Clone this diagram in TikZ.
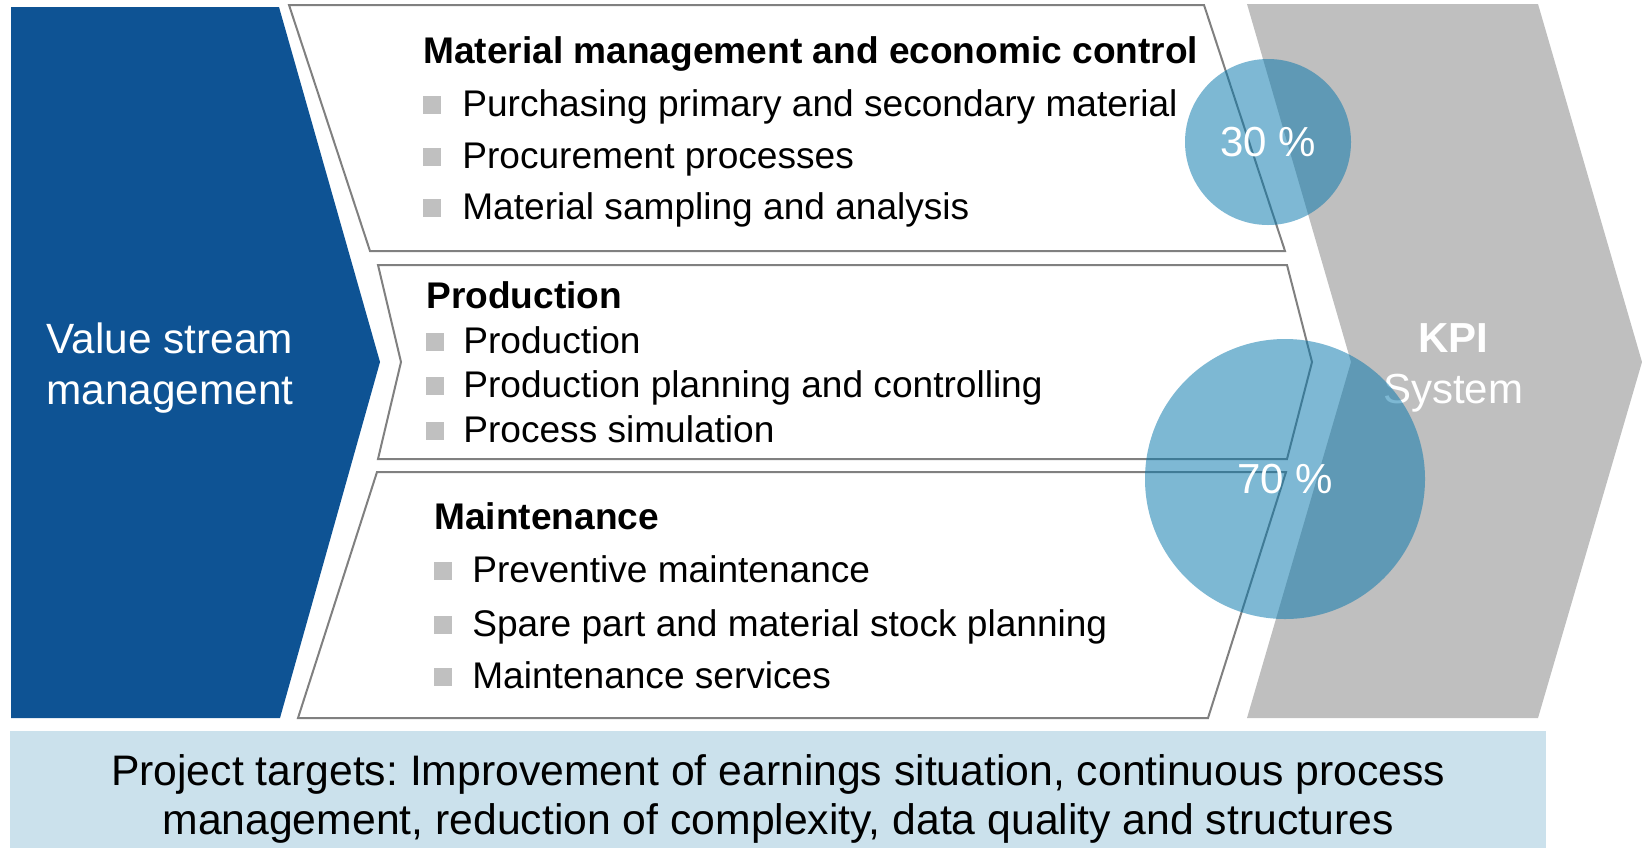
\documentclass[tikz,border=0pt]{standalone}
\usepackage{fontspec}
\setmainfont{Liberation Sans}
\frenchspacing
\definecolor{vsblue}{RGB}{14,83,148}
\definecolor{kpigray}{RGB}{191,191,191}
\definecolor{linegray}{RGB}{128,128,128}
\definecolor{bulletgray}{RGB}{192,192,192}
\definecolor{pctblue}{RGB}{7,119,172}
\definecolor{bannerblue}{RGB}{203,225,236}
\begin{document}
\begin{tikzpicture}[x=0.2mm, y=-0.2mm,
    panel/.style={draw=linegray, line width=0.4mm, fill=white},
    head/.style={anchor=base west, inner sep=0, font=\fontsize{21.1}{25}\selectfont\bfseries},
    item/.style={anchor=base west, inner sep=0, font=\fontsize{21.1}{25}\selectfont},
    bullet/.style={fill=bulletgray, inner sep=0, minimum size=3.5mm},
    share/.style={circle, fill=pctblue, fill opacity=0.52, text opacity=1, text=white, inner sep=0, font=\fontsize{23.9}{29}\selectfont}]

    \useasboundingbox (0,0) rectangle (1642,848);

    % Value stream arrow
    \fill[vsblue] (11,7) -- (279,7) -- (380,362) -- (280,718) -- (11,718) -- cycle;
    \node[text=white, align=center, font=\fontsize{24.1}{28.6}\selectfont] (vsm) at (170,368) {Value stream\\management};

    % KPI arrow
    \fill[kpigray] (1247,4) -- (1538,4) -- (1642,362) -- (1538,718) -- (1247,718) -- (1351,362) -- cycle;
    \node[text=white, align=center, font=\fontsize{23.9}{29}\selectfont] (kpi) at (1453,368) {\textbf{KPI}\\System};

    % Panels
    \draw[panel] (289,5) -- (1204,5) -- (1285,251) -- (370,251) -- cycle;
    \draw[panel] (378,265) -- (1287,265) -- (1312,362) -- (1287,459) -- (378,459) -- (401,362) -- cycle;
    \draw[panel] (377,472) -- (1286,472) -- (1208,718) -- (298,718) -- cycle;

    % Material management
    \node[head] (mat) at (423,63) {Material management and economic control};
    \foreach \y/\txt [count=\i] in {116/Purchasing primary and secondary material, 168/Procurement processes, 219/Material sampling and analysis} {
        \node[bullet] (matb\i) at (432,\y-11) {};
        \node[item] (matt\i) at (462,\y) {\txt};
    }

    % Production
    \node[head] (prod) at (426,308) {Production};
    \foreach \y/\txt [count=\i] in {353/Production, 397/Production planning and controlling, 442/Process simulation} {
        \node[bullet] (prodb\i) at (435,\y-11) {};
        \node[item] (prodt\i) at (463,\y) {\txt};
    }

    % Maintenance
    \node[head] (main) at (434,529) {Maintenance};
    \foreach \y/\txt [count=\i] in {582/Preventive maintenance, 636/Spare part and material stock planning, 688/Maintenance services} {
        \node[bullet] (mainb\i) at (443,\y-11) {};
        \node[item] (maint\i) at (472,\y) {\txt};
    }

    % Shares
    \node[share, minimum size=33.2mm] (p30) at (1268,142) {30 \%};
    \node[share, minimum size=56mm] (p70) at (1285,479) {70 \%};

    % Project targets
    \fill[bannerblue] (10,731) rectangle (1546,848);
    \node[align=center, font=\fontsize{24.3}{27.9}\selectfont] (goal) at (778,799) {Project targets: Improvement of earnings situation, continuous process\\management, reduction of complexity, data quality and structures};

\end{tikzpicture}
\end{document}
